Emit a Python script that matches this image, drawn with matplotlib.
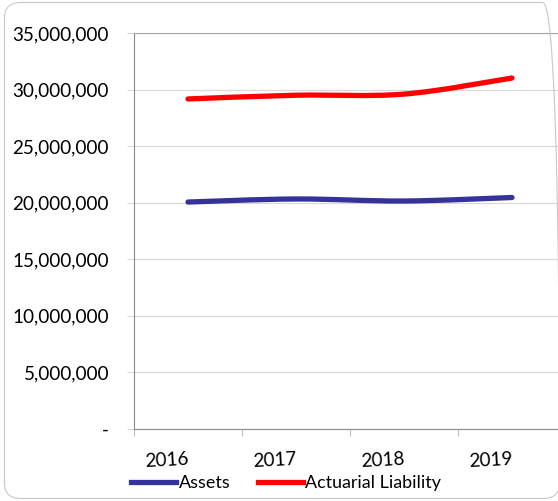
import matplotlib.pyplot as plt
import matplotlib
from matplotlib.path import Path
from matplotlib.patches import PathPatch, FancyBboxPatch
from matplotlib.lines import Line2D
from matplotlib.ticker import FuncFormatter, FixedLocator

matplotlib.rcParams['font.family'] = ['Lato', 'DejaVu Sans']

years = ["2016", "2017", "2018", "2019"]
assets = [20060000, 20330000, 20150000, 20460000]
liability = [29170000, 29500000, 29600000, 31020000]

fig = plt.figure(figsize=(5.58, 5.01), dpi=100)

# chart frame (right edge is cut off in the original)
frame = FancyBboxPatch((4.5/558, 2.5/501), 555/558, 496/501,
                       boxstyle="round,pad=0,rounding_size=0.03",
                       transform=fig.transFigure, fill=False,
                       edgecolor="#c8c8c8", linewidth=0.8)
fig.patches.append(frame)

ax = fig.add_axes([134/558, 72/501, 432/558, 396/501])
ax.set_xlim(-0.5, 3.5)
ax.set_ylim(0, 35000000)


def smooth(ax, ys, color):
    xs = list(range(len(ys)))
    pts = list(zip(xs, ys))
    verts = [pts[0]]
    codes = [Path.MOVETO]
    n = len(pts)
    for i in range(n - 1):
        p0 = pts[i - 1] if i > 0 else pts[i]
        p1 = pts[i]
        p2 = pts[i + 1]
        p3 = pts[i + 2] if i + 2 < n else pts[i + 1]
        c1 = (p1[0] + (p2[0] - p0[0]) / 6, p1[1] + (p2[1] - p0[1]) / 6)
        c2 = (p2[0] - (p3[0] - p1[0]) / 6, p2[1] - (p3[1] - p1[1]) / 6)
        verts += [c1, c2, p2]
        codes += [Path.CURVE4] * 3
    patch = PathPatch(Path(verts, codes), facecolor="none", edgecolor=color,
                      linewidth=3.8, capstyle="round", zorder=3)
    ax.add_patch(patch)


smooth(ax, assets, "#333399")
smooth(ax, liability, "#ff0000")

ax.yaxis.set_major_locator(FixedLocator(range(0, 35000001, 5000000)))
ax.yaxis.set_major_formatter(FuncFormatter(lambda v, p: "-" if v == 0 else f"{int(v):,}"))
ax.grid(axis="y", color="#d9d9d9", linewidth=0.9)
ax.set_axisbelow(True)
ax.tick_params(axis="y", length=5, color="#d9d9d9", labelsize=13.6, pad=13)
ax.set_xticks([-0.5, 0.5, 1.5, 2.5])
ax.set_xticklabels([])
ax.tick_params(axis="x", length=5, color="#bfbfbf", direction="out")

ax.spines["right"].set_visible(False)
ax.spines["top"].set_color("#a6a6a6")
ax.spines["left"].set_color("#8c8c8c")
ax.spines["bottom"].set_color("#8c8c8c")

for i, y in enumerate(years):
    ax.text(i - 0.2, -0.078, y, transform=ax.get_xaxis_transform(),
            ha="center", va="center", fontsize=13.6, rotation=3)

handles = [Line2D([], [], color="#333399", linewidth=3.8),
           Line2D([], [], color="#ff0000", linewidth=3.8)]
fig.legend(handles, ["Assets", "Actuarial Liability"], loc="center left",
           bbox_to_anchor=(131/558, 1 - 483/501), ncol=2, frameon=False,
           fontsize=12.9, handlelength=2.5, handletextpad=0.15, columnspacing=1.55,
           borderaxespad=0, borderpad=0)

fig.savefig("out.png", dpi=100)
